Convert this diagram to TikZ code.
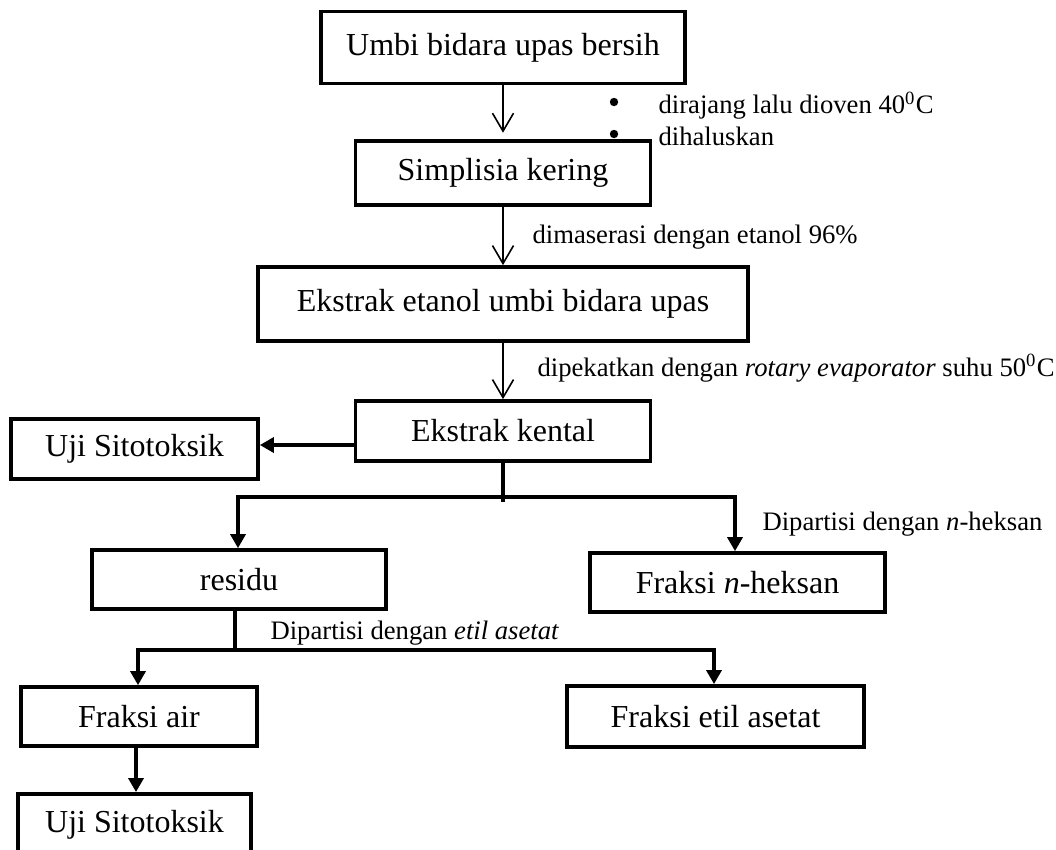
\documentclass[tikz,border=0pt]{standalone}
\usepackage{fontspec}
\setmainfont{Liberation Serif}
\usetikzlibrary{arrows.meta, positioning}

\begin{document}
\begin{tikzpicture}[
    x=0.375pt, y=-0.375pt,
    stepbox/.style={draw, rectangle, line width=1.4pt, inner sep=2pt, align=center, font=\fontsize{12}{14}\selectfont},
    lbl/.style={anchor=west, inner sep=0pt, font=\fontsize{10}{12}\selectfont},
    thinarrow/.style={line width=0.6pt, -{Straight Barb[length=6.75pt, width=7.9pt, line width=0.6pt]}},
    thickline/.style={line width=1.3pt},
    thickarrow/.style={line width=1.3pt, -{Triangle[length=5.25pt, width=5.6pt]}}
]
\useasboundingbox (0,0) rectangle (1056,849);
\clip (0,0) rectangle (1056,849);

% Main column
\node[stepbox, minimum width=136.5pt, minimum height=27pt] (umbi) at (503,47.5) {Umbi bidara upas bersih};
\node[stepbox, minimum width=110.6pt, minimum height=23.8pt] (simplisia) at (503,173) {Simplisia kering};
\node[stepbox, minimum width=183.6pt, minimum height=27.75pt] (ekstrak) at (503,304) {Ekstrak etanol umbi bidara upas};
\node[stepbox, minimum width=110.6pt, minimum height=22.5pt] (kental) at (503,431) {Ekstrak kental};
\node[stepbox, minimum width=92.6pt, minimum height=22.7pt] (uji1) at (134.5,449) {Uji Sitotoksik};

% Fractions
\node[stepbox, minimum width=110.3pt, minimum height=22.1pt] (residu) at (239,579.5) {residu};
\node[stepbox, minimum width=110.6pt, minimum height=22.1pt] (heksan) at (737.5,582.5) {Fraksi \textit{n}-heksan};
\node[stepbox, minimum width=88.5pt, minimum height=22.1pt] (air) at (139,716.5) {Fraksi air};
\node[stepbox, minimum width=111.4pt, minimum height=22.9pt] (etil) at (715.5,716.5) {Fraksi etil asetat};
\node[stepbox, minimum width=87.4pt, minimum height=23.3pt] (uji2) at (134.5,825) {Uji Sitotoksik};

% Process labels
\node[lbl, align=left] (steps) at (658,119) {dirajang lalu dioven 40\textsuperscript{0}C\\
    dihaluskan};
\fill (614,102) circle (4.2);
\fill (614,134) circle (4.2);
\node[lbl] (l1) at (532,237) {dimaserasi dengan etanol 96\%};
\node[lbl] (l2) at (537,368) {dipekatkan dengan \textit{rotary evaporator} suhu 50\textsuperscript{0}C};
\node[lbl] (l3) at (762,524) {Dipartisi dengan \textit{n}-heksan};
\node[lbl] (l4) at (270,633) {Dipartisi dengan \textit{etil asetat}};

% Thin arrows
\draw[thinarrow, shorten >=2.5pt] (umbi) -- (simplisia);
\draw[thinarrow] (simplisia) -- (ekstrak);
\draw[thinarrow] (ekstrak) -- (kental);

% Side arrow
\draw[thickarrow] (kental.west |- 0,445) -- (uji1.east |- 0,445);

% First split
\coordinate (s1) at (503,497);
\coordinate (s1l) at (238,497);
\coordinate (s1r) at (735,497);
\draw[thickline] (kental.south) -- ([yshift=-1.9pt]s1);
\draw[thickarrow] (s1) -- (s1l) -- (s1l |- residu.north);
\draw[thickarrow] (s1) -- (s1r) -- (s1r |- heksan.north);

% Second split
\coordinate (s2) at (235,650);
\coordinate (s2l) at (138,650);
\coordinate (s2r) at (714,650);
\draw[thickline] (s2 |- residu.south) -- (s2);
\draw[thickarrow] (s2) -- (s2l) -- (s2l |- air.north);
\draw[thickarrow] (s2) -- (s2r) -- (s2r |- etil.north);

\draw[thickarrow] (air.south -| 136,0) -- (136,0 |- uji2.north);

\end{tikzpicture}
\end{document}
